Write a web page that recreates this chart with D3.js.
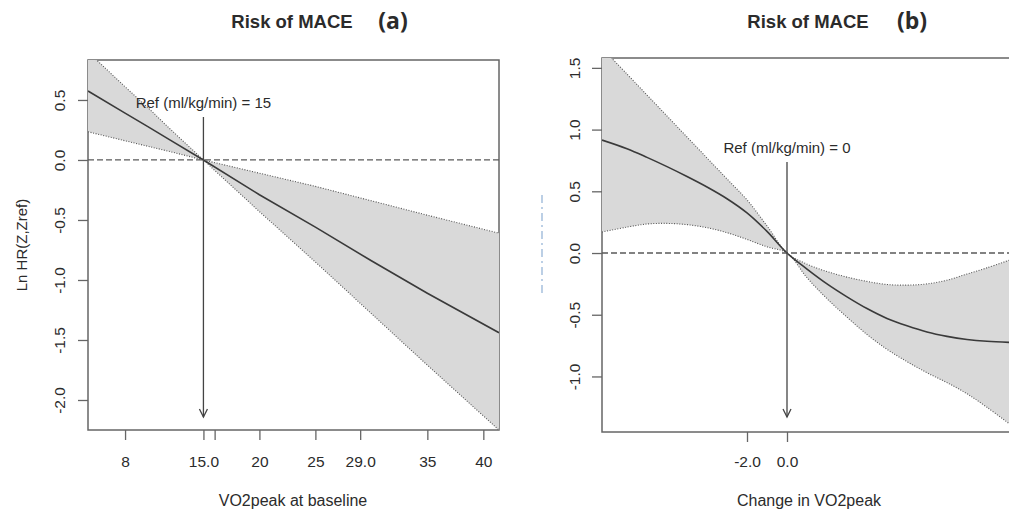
<!DOCTYPE html>
<html><head><meta charset="utf-8">
<script src="https://cdn.jsdelivr.net/npm/d3@7"></script>
<style>
body{margin:0;background:#fff}
svg{display:block}
text{font-family:"Liberation Sans",Arial,sans-serif;fill:#2b2b2b}
</style>
</head><body><svg id="c" width="1009" height="516"></svg>
<script>
// ---------- Panel (a): VO2peak at baseline ----------
const aX     = [4.69, 8, 10, 12, 15, 20, 25, 30, 35, 41.4];
const aFit   = [0.575, 0.39, 0.28, 0.167, 0, -0.29, -0.56, -0.84, -1.11, -1.44];
const aUpper = [0.90, 0.61, 0.44, 0.26, 0, -0.11, -0.22, -0.34, -0.46, -0.61];
const aLower = [0.235, 0.16, 0.115, 0.07, 0, -0.43, -0.85, -1.28, -1.71, -2.25];
const aXTicks = [8, 15, 16, 20, 25, 29, 35, 40];
const aXTickLabels = ["8", "15.0", "", "20", "25", "29.0", "35", "40"];
const aYTicks = [0.5, 0, -0.5, -1, -1.5, -2];
const aYTickLabels = ["0.5", "0.0", "-0.5", "-1.0", "-1.5", "-2.0"];

// ---------- Panel (b): change in VO2peak ----------
const bX     = [-9.25, -8, -7, -6, -5, -4, -3, -2, -1, 0, 1, 2, 3, 4, 5, 6, 7, 8, 9, 10, 11.25];
const bFit   = [0.915, 0.845, 0.775, 0.70, 0.62, 0.535, 0.44, 0.325, 0.175, 0, -0.13, -0.25, -0.355, -0.45, -0.53, -0.59, -0.64, -0.675, -0.70, -0.715, -0.725];
const bUpper = [1.66, 1.45, 1.28, 1.11, 0.94, 0.77, 0.60, 0.43, 0.22, 0, -0.09, -0.15, -0.195, -0.23, -0.255, -0.26, -0.25, -0.22, -0.17, -0.12, -0.05];
const bLower = [0.17, 0.21, 0.235, 0.24, 0.23, 0.205, 0.165, 0.11, 0.05, 0, -0.20, -0.37, -0.52, -0.66, -0.78, -0.88, -0.97, -1.05, -1.14, -1.25, -1.40];
const bXTicks = [-2, 0];
const bXTickLabels = ["-2.0", "0.0"];
const bYTicks = [1.5, 1, 0.5, 0, -0.5, -1];
const bYTickLabels = ["1.5", "1.0", "0.5", "0.0", "-0.5", "-1.0"];

const titles = ["Risk of MACE", "Risk of MACE"];
const tags = ["(a)", "(b)"];
const xTitles = ["VO2peak at baseline", "Change in VO2peak"];
const yTitles = ["Ln HR(Z,Zref)", ""];
const refLabels = ["Ref (ml/kg/min) = 15", "Ref (ml/kg/min) = 0"];
const refValues = [15, 0];

const svg = d3.select("#c");

const panels = [
  {id: "a", xs: aX, fit: aFit, up: aUpper, lo: aLower, xt: aXTicks, xtl: aXTickLabels, yt: aYTicks, ytl: aYTickLabels,
   xdom: [4.69, 41.4], ydom: [-2.25, 0.833], L: 88, R: 499, T: 60, B: 430, curve: d3.curveLinear,
   title: titles[0], tag: tags[0], xTitle: xTitles[0], yTitle: yTitles[0], ref: refValues[0], refLabel: refLabels[0],
   titleX: 292, tagX: 393, ylabX: 60, refTextY: 108, arrowTop: 117, arrowBot: 417, xLabPad: 27, yTitleX: 22, xTitleX: 293},
  {id: "b", xs: bX, fit: bFit, up: bUpper, lo: bLower, xt: bXTicks, xtl: bXTickLabels, yt: bYTicks, ytl: bYTickLabels,
   xdom: [-9.25, 11.25], ydom: [-1.45, 1.58], L: 602, R: 1012, T: 58, B: 432, curve: d3.curveCatmullRom.alpha(0.5),
   title: titles[1], tag: tags[1], xTitle: xTitles[1], yTitle: yTitles[1], ref: refValues[1], refLabel: refLabels[1],
   titleX: 808, tagX: 912, ylabX: 575, refTextY: 153, arrowTop: 162, arrowBot: 417, xLabPad: 25, yTitleX: 0, xTitleX: 809}
];

const axisCol = "#666";
const tickFont = 15.5;

panels.forEach(p => {
  const x = d3.scaleLinear().domain(p.xdom).range([p.L, p.R]);
  const y = d3.scaleLinear().domain(p.ydom).range([p.B, p.T]);
  const g = svg.append("g");

  const clipId = "clip-" + p.id;
  svg.append("clipPath").attr("id", clipId)
    .append("rect").attr("x", p.L).attr("y", p.T).attr("width", p.R - p.L).attr("height", p.B - p.T);

  // box
  g.append("rect").attr("x", p.L).attr("y", p.T).attr("width", p.R - p.L).attr("height", p.B - p.T)
    .attr("fill", "none").attr("stroke", axisCol).attr("stroke-width", 1.5);

  // x axis
  const xa = g.append("g").attr("transform", `translate(0,${p.B})`)
    .call(d3.axisBottom(x).tickValues(p.xt).tickFormat((d, i) => p.xtl[i]).tickSize(10).tickPadding(p.xLabPad - 11));
  xa.select(".domain").remove();
  xa.selectAll("line").attr("stroke", axisCol).attr("stroke-width", 1.3);
  xa.selectAll("text").attr("font-size", tickFont).attr("fill", "#2b2b2b").attr("font-family", "Liberation Sans, Arial, sans-serif");

  // y axis
  const ya = g.append("g").attr("transform", `translate(${p.L},0)`)
    .call(d3.axisLeft(y).tickValues(p.yt).tickFormat((d, i) => p.ytl[i]).tickSize(10));
  ya.select(".domain").remove();
  ya.selectAll("line").attr("stroke", axisCol).attr("stroke-width", 1.3);
  ya.selectAll("text")
    .attr("font-size", tickFont).attr("fill", "#2b2b2b").attr("font-family", "Liberation Sans, Arial, sans-serif")
    .attr("text-anchor", "middle").attr("transform", "rotate(-90)")
    .attr("x", 0).attr("y", p.ylabX - p.L).attr("dy", "0.35em");

  // confidence band
  const data = p.xs.map((v, i) => ({x: v, f: p.fit[i], u: p.up[i], l: p.lo[i]}));
  const plot = g.append("g").attr("clip-path", `url(#${clipId})`);
  plot.append("path").datum(data)
    .attr("d", d3.area().curve(p.curve).x(d => x(d.x)).y0(d => y(d.l)).y1(d => y(d.u)))
    .attr("fill", "#d9d9d9").attr("stroke", "none");
  ["u", "l"].forEach(k => {
    plot.append("path").datum(data)
      .attr("d", d3.line().curve(p.curve).x(d => x(d.x)).y(d => y(d[k])))
      .attr("fill", "none").attr("stroke", "#555").attr("stroke-width", 1.1).attr("stroke-dasharray", "1,1.6");
  });
  plot.append("path").datum(data)
    .attr("d", d3.line().curve(p.curve).x(d => x(d.x)).y(d => y(d.f)))
    .attr("fill", "none").attr("stroke", "#3a3a3a").attr("stroke-width", 1.6);

  // zero reference dashed line
  g.append("line").attr("x1", p.L).attr("x2", p.R).attr("y1", y(0)).attr("y2", y(0))
    .attr("stroke", "#5a5a5a").attr("stroke-width", 1.3).attr("stroke-dasharray", "6,3");

  // arrow at reference
  const xr = x(p.ref);
  g.append("line").attr("x1", xr).attr("x2", xr).attr("y1", p.arrowTop).attr("y2", p.arrowBot)
    .attr("stroke", "#444").attr("stroke-width", 1.3);
  g.append("path").attr("d", `M${xr - 4},${p.arrowBot - 8}L${xr},${p.arrowBot}L${xr + 4},${p.arrowBot - 8}`)
    .attr("fill", "none").attr("stroke", "#444").attr("stroke-width", 1.3);
  g.append("text").attr("x", xr).attr("y", p.refTextY).attr("text-anchor", "middle")
    .attr("font-size", 15).text(p.refLabel);

  // titles
  g.append("text").attr("x", p.titleX).attr("y", 28).attr("text-anchor", "middle")
    .attr("font-size", 18.5).attr("font-weight", "bold").attr("fill", "#1e1e1e").text(p.title);
  g.append("text").attr("x", p.tagX).attr("y", 29).attr("text-anchor", "middle")
    .attr("font-size", 23).attr("font-weight", "bold")
    .style("font-family", "'Open Sans', sans-serif").attr("fill", "#111").text(p.tag);

  // axis titles
  g.append("text").attr("x", p.xTitleX).attr("y", 506).attr("text-anchor", "middle")
    .attr("font-size", 16).text(p.xTitle);
  if (p.yTitle) {
    g.append("text").attr("transform", `translate(${p.yTitleX},${(p.T + p.B) / 2}) rotate(-90)`)
      .attr("text-anchor", "middle").attr("dy", "0.35em").attr("font-size", 15).text(p.yTitle);
  }
});

// faint scanning artefact between panels
svg.append("line").attr("x1", 542).attr("x2", 542).attr("y1", 195).attr("y2", 295)
  .attr("stroke", "#8fb0d4").attr("stroke-width", 1.2).attr("stroke-dasharray", "8,4,2,4");
</script>
</body></html>
